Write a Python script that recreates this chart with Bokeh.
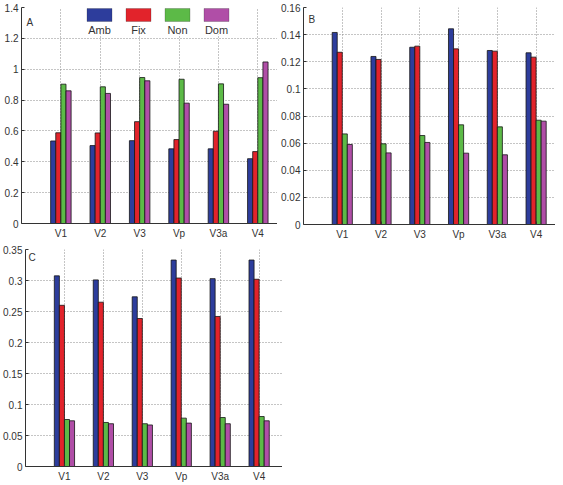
import numpy as np
from bokeh.plotting import figure
from bokeh.layouts import column, row
from bokeh.models import FixedTicker, Label, BoxAnnotation, Range1d
from bokeh.embed import file_html
from bokeh.resources import INLINE

# ---------------- data ----------------
areas = ["V1", "V2", "V3", "Vp", "V3a", "V4"]
conditions = ["Amb", "Fix", "Non", "Dom"]
colors = ["#2d3d9c", "#e2232b", "#5cba47", "#b04ea7"]

a_amb = [0.535, 0.505, 0.537, 0.484, 0.484, 0.420]
a_fix = [0.588, 0.587, 0.660, 0.544, 0.598, 0.466]
a_non = [0.903, 0.886, 0.946, 0.935, 0.905, 0.945]
a_dom = [0.860, 0.843, 0.925, 0.780, 0.773, 1.047]

b_amb = [0.1416, 0.1239, 0.1307, 0.1443, 0.1283, 0.1266]
b_fix = [0.1270, 0.1217, 0.1315, 0.1295, 0.1278, 0.1234]
b_non = [0.0668, 0.0595, 0.0656, 0.0735, 0.0720, 0.0769]
b_dom = [0.0590, 0.0528, 0.0605, 0.0526, 0.0514, 0.0762]

c_amb = [0.3075, 0.3010, 0.2737, 0.3330, 0.3030, 0.3330]
c_fix = [0.2600, 0.2650, 0.2387, 0.3040, 0.2420, 0.3020]
c_non = [0.0758, 0.0710, 0.0690, 0.0780, 0.0790, 0.0806]
c_dom = [0.0737, 0.0690, 0.0670, 0.0700, 0.0690, 0.0737]

a_ticks = [0, 0.2, 0.4, 0.6, 0.8, 1.0, 1.2, 1.4]
b_ticks = [0, 0.02, 0.04, 0.06, 0.08, 0.10, 0.12, 0.14, 0.16]
c_ticks = [0, 0.05, 0.10, 0.15, 0.20, 0.25, 0.30, 0.35]

FONT = "Liberation Sans"
TXT = "#333333"
BAR_W = 0.13


def make_panel(letter, series, yticks, x_end, fw, fh, bl, bt, bb, letter_xy):
    p = figure(frame_width=fw, frame_height=fh,
               min_border_left=bl, min_border_right=0,
               min_border_top=bt, min_border_bottom=bb,
               x_range=Range1d(0, x_end), y_range=Range1d(0, yticks[-1]),
               output_backend="svg", toolbar_location=None,
               background_fill_color="white", border_fill_color="white")
    p.outline_line_color = None
    xpos = np.arange(1, len(areas) + 1)
    n = len(series)
    for i, (vals, col) in enumerate(zip(series, colors)):
        off = (i - (n - 1) / 2.0) * BAR_W
        p.vbar(x=xpos + off, top=vals, bottom=0, width=BAR_W,
               fill_color=col, line_color="#151515", line_width=0.8)
    # axes
    p.xaxis.ticker = FixedTicker(ticks=list(xpos))
    p.xaxis.major_label_overrides = {int(k): a for k, a in zip(xpos, areas)}
    p.yaxis.ticker = FixedTicker(ticks=yticks)
    p.yaxis.major_label_overrides = {t: ("%g" % t) for t in yticks}
    for ax in (p.xaxis[0], p.yaxis[0]):
        ax.axis_line_color = "#333333"
        ax.axis_line_width = 1
        ax.major_tick_in = 3
        ax.major_tick_out = 0
        ax.major_tick_line_color = "#333333"
        ax.minor_tick_line_color = None
        ax.major_label_text_font = FONT
        ax.major_label_text_font_size = "10px"
        ax.major_label_text_color = TXT
    p.xaxis.major_label_standoff = 4
    p.yaxis.major_label_standoff = 3
    for g in (p.xgrid[0], p.ygrid[0]):
        g.grid_line_color = "#8a8a8a"
        g.grid_line_dash = "1 2"
        g.grid_line_width = 1
    p.add_layout(Label(x=letter_xy[0], y=letter_xy[1], x_units="screen", y_units="screen",
                       text=letter, text_font=FONT, text_font_size="10px",
                       text_color=TXT, text_baseline="middle"))
    return p


pa = make_panel("A", [a_amb, a_fix, a_non, a_dom], a_ticks, 6.5,
                256, 216, 21, 7, 17, (5, 201))
pb = make_panel("B", [b_amb, b_fix, b_non, b_dom], b_ticks, 6.5,
                252, 217, 26, 5, 18, (5, 205))
pc = make_panel("C", [c_amb, c_fix, c_non, c_dom], c_ticks, 6.6,
                257, 217, 25, 8, 20, (3, 209))

# legend in panel A (screen units relative to frame)
pa.add_layout(BoxAnnotation(left=55, right=213, bottom=189, top=214,
                            left_units="screen", right_units="screen",
                            bottom_units="screen", top_units="screen",
                            fill_color="white", fill_alpha=1.0, line_color=None))
for i, (name, col) in enumerate(zip(conditions, colors)):
    cx = 78 + 39 * i
    pa.add_layout(BoxAnnotation(left=cx - 12.5, right=cx + 12.5, bottom=202, top=215,
                                left_units="screen", right_units="screen",
                                bottom_units="screen", top_units="screen",
                                fill_color=col, fill_alpha=1.0,
                                line_color="#222222", line_width=0.8))
    pa.add_layout(Label(x=cx, y=194, x_units="screen", y_units="screen", text=name,
                        text_font=FONT, text_font_size="11px", text_color=TXT,
                        text_align="center", text_baseline="middle"))

layout = column(row(pa, pb), pc)

open("out.html", "w").write(file_html(layout, INLINE))
